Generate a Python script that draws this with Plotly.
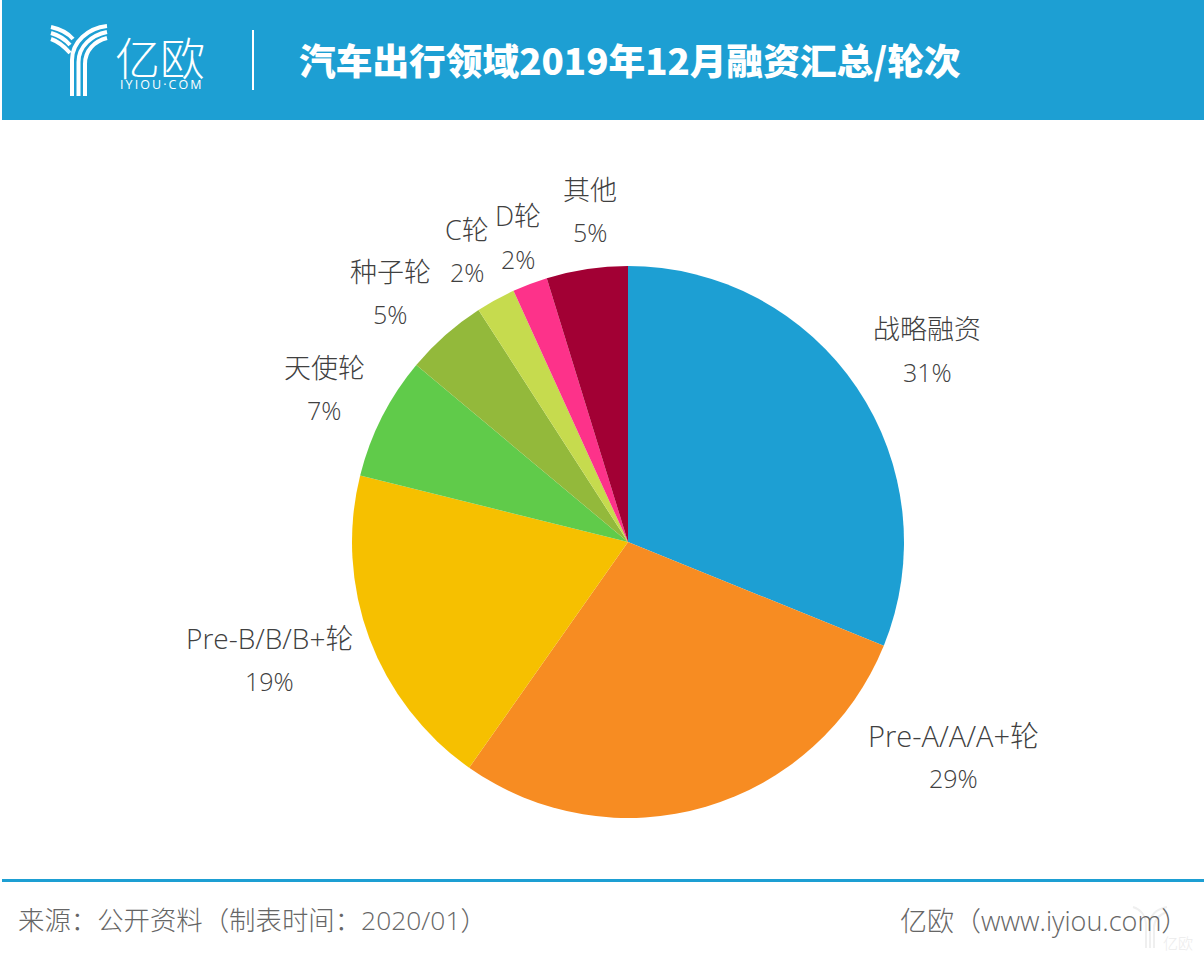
import plotly.graph_objects as go

W, H = 1204, 958

categories = ['战略融资', 'Pre-A/A/A+轮', 'Pre-B/B/B+轮', '天使轮', '种子轮', 'C轮', 'D轮', '其他']
shares = [31.1, 28.6, 19.1, 7.2, 4.8, 2.3, 2.05, 4.75]
percent_labels = ['31%', '29%', '19%', '7%', '5%', '2%', '2%', '5%']
colors = ['#1d9fd3', '#f78c22', '#f6c000', '#60cb4a', '#93b93b', '#c6db4e', '#fd328a', '#a20034']

title = '汽车出行领域2019年12月融资汇总/轮次'
source = '来源：公开资料（制表时间：2020/01）'
site = '亿欧（www.iyiou.com）'

# label centres in page pixels: (x, name y, percent y, name size)
label_pos = [(927, 329, 372, 27), (953, 735, 778, 29), (269, 638, 681, 28), (324, 367, 410, 27),
             (390, 272, 314, 27), (467, 230, 272, 27), (518, 216, 259, 27), (590, 190, 232, 27)]

CJK = '"Noto Sans CJK SC", sans-serif'
LATIN = '"Open Sans", "Noto Sans CJK SC", sans-serif'


def px(x):
    return x / W


def py(y):
    return 1 - y / H


def text(s, x, y, size, color, anchor='center', family=LATIN, weight=300):
    return dict(text=s, x=px(x), y=py(y), xref='paper', yref='paper',
                xanchor=anchor, yanchor='middle', showarrow=False,
                font=dict(family=family, size=size, color=color, weight=weight))


def stroke(path, width=4, color='white'):
    return dict(type='path', path=path, xref='x', yref='y', layer='above',
                line=dict(color=color, width=width))


fig = go.Figure(go.Pie(
    labels=categories, values=shares, sort=False, direction='clockwise', rotation=0,
    marker=dict(colors=colors, line=dict(width=0)),
    textinfo='none', hoverinfo='label+percent', showlegend=False,
    domain=dict(x=[px(352), px(904)], y=[py(818), py(266)]),
))

annotations = []
for name, pct, (x, y1, y2, size) in zip(categories, percent_labels, label_pos):
    annotations.append(text(name, x, y1, size, '#404040'))
    annotations.append(text(pct, x, y2, 25, '#404040'))

annotations += [
    text(title, 297, 59, 36.7, 'white', 'left', CJK, 900),
    text('亿欧', 160, 57, 45, 'white', 'center', CJK, 300),
    text('\u2009'.join('IYIOU·COM'), 161, 85, 12.5, 'white', 'center', LATIN, 400),
    text(source, 16, 920, 26.4, '#666666', 'left'),
    text(site, 898, 920, 27, '#666666', 'left'),
    text('亿欧', 1178, 942, 15, '#ececec', 'center', CJK, 300),
]

shapes = [
    dict(type='rect', xref='x', yref='y', x0=2, x1=W, y0=0, y1=120,
         fillcolor='#1d9fd3', line=dict(width=0), layer='below'),
    dict(type='rect', xref='x', yref='y', x0=2, x1=W, y0=879, y1=882,
         fillcolor='#1d9fd3', line=dict(width=0), layer='below'),
    dict(type='rect', xref='x', yref='y', x0=252, x1=254, y0=30, y1=90,
         fillcolor='white', line=dict(width=0), layer='above'),
    # logo
    stroke('M 72 96 L 72 60 C 72 42 88 28 107 26'),
    stroke('M 78.5 96 L 78.5 62 C 78.5 46 92 35 107 32'),
    stroke('M 85 96 L 85 64 C 85 50 95 41 107 38'),
    stroke('M 51 27 C 60 29 68 33 73 39'),
    stroke('M 51 33 C 58 35 65 39 70 45'),
    stroke('M 51 39 C 57 41 63 45 70 53'),
    # watermark
    stroke('M 1146 948 L 1146 925 C 1146 915 1140 909 1133 907', 2, '#efefef'),
    stroke('M 1150 948 L 1150 925 C 1150 915 1156 909 1167 907', 2, '#efefef'),
    stroke('M 1154 948 L 1154 928 C 1154 920 1158 915 1167 912', 2, '#efefef'),
]

fig.update_layout(
    width=W, height=H, autosize=False,
    margin=dict(l=0, r=0, t=0, b=0),
    paper_bgcolor='white', plot_bgcolor='rgba(0,0,0,0)',
    xaxis=dict(range=[0, W], visible=False, fixedrange=True),
    yaxis=dict(range=[H, 0], visible=False, fixedrange=True),
    shapes=shapes, annotations=annotations,
)
# the page's default body margin would push the chart 8px in
fig.write_html("out.html", config=dict(displayModeBar=False),
               post_script="document.body.style.margin='0';document.body.style.overflow='hidden';")
